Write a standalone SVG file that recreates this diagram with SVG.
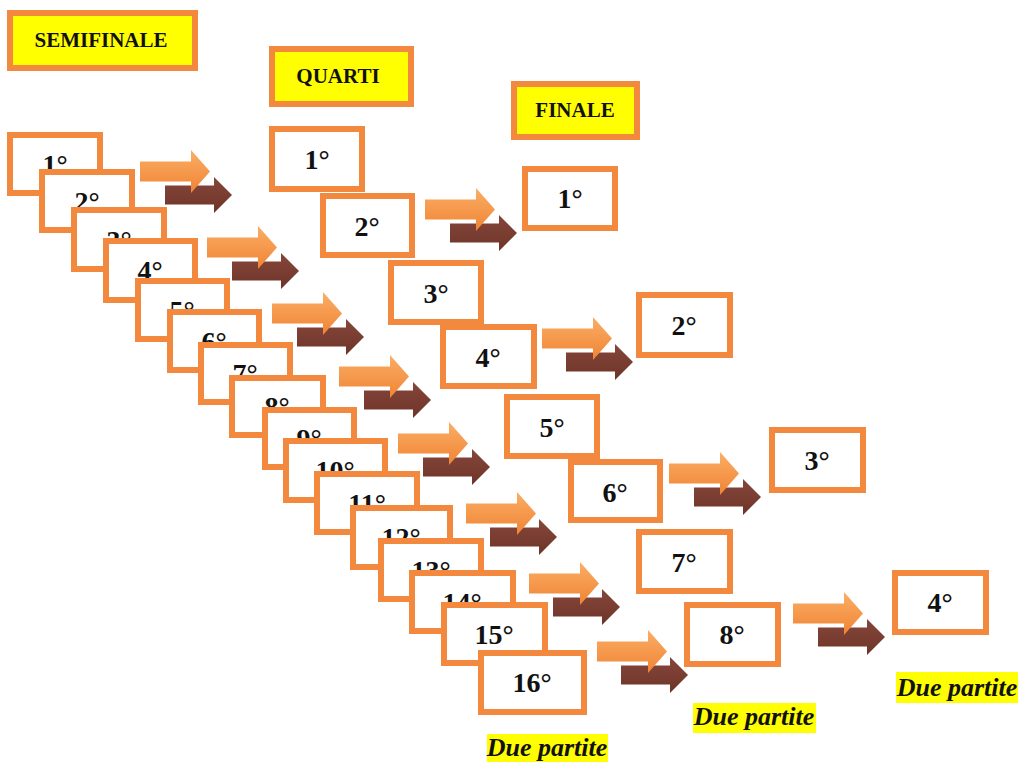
<svg xmlns="http://www.w3.org/2000/svg" width="1020" height="762" viewBox="0 0 1020 762">
<style>
.box{fill:#ffffff;stroke:#F3883F;stroke-width:6}
.hdr{fill:#FFFF00;stroke:#F3883F;stroke-width:6}
.lbl{font-family:"Liberation Serif","Times New Roman",serif;font-weight:bold;font-size:28px;text-anchor:middle;fill:#111}
.htx{font-family:"Liberation Serif","Times New Roman",serif;font-weight:bold;font-size:21px;text-anchor:middle;fill:#111}
.due{font-family:"Liberation Serif","Times New Roman",serif;font-weight:bold;font-style:italic;font-size:26px;text-anchor:middle;fill:#111}
.hl{fill:#FFFF00}
</style>
<defs>
<linearGradient id="og" x1="0" y1="0" x2="0" y2="1">
<stop offset="0" stop-color="#FAAE66"/>
<stop offset="1" stop-color="#F08434"/>
</linearGradient>
<linearGradient id="bg" x1="0" y1="0" x2="0" y2="1">
<stop offset="0" stop-color="#86463A"/>
<stop offset="1" stop-color="#6E3428"/>
</linearGradient>
<path id="oa" d="M0,11.5 H51 V0 L70,21.5 L51,43 V31.5 H0 Z" fill="url(#og)"/>
<path id="ba" d="M0,8.5 H49 V0 L67,18 L49,36 V27.5 H0 Z" fill="url(#bg)"/>
</defs>
<rect width="1020" height="762" fill="#ffffff"/>

<g id="headers">
<g id="h-semifinale"><rect class="hdr" x="10" y="13" width="185" height="55"/><text class="htx" x="101" y="47">SEMIFINALE</text></g>
<g id="h-quarti"><rect class="hdr" x="272" y="49" width="139" height="55"/><text class="htx" x="338" y="83">QUARTI</text></g>
<g id="h-finale"><rect class="hdr" x="514" y="84" width="123" height="53"/><text class="htx" x="575" y="117">FINALE</text></g>
</g>

<g id="semifinale">
<g id="s1"><rect class="box" x="10" y="135" width="90" height="58"/><text class="lbl" x="55" y="174">1°</text></g>
<g id="s2"><rect class="box" x="42" y="172" width="90" height="58"/><text class="lbl" x="87" y="211">2°</text></g>
<g id="s3"><rect class="box" x="74" y="210" width="90" height="59"/><text class="lbl" x="119" y="250">3°</text></g>
<g id="s4"><rect class="box" x="106" y="241" width="89" height="59"/><text class="lbl" x="150" y="280">4°</text></g>
<g id="s5"><rect class="box" x="138" y="281" width="89" height="58"/><text class="lbl" x="182" y="320">5°</text></g>
<g id="s6"><rect class="box" x="170" y="312" width="89" height="58"/><text class="lbl" x="214" y="351">6°</text></g>
<g id="s7"><rect class="box" x="201" y="345" width="89" height="57"/><text class="lbl" x="245" y="383">7°</text></g>
<g id="s8"><rect class="box" x="232" y="378" width="91" height="57"/><text class="lbl" x="277" y="416">8°</text></g>
<g id="s9"><rect class="box" x="265" y="410" width="89" height="57"/><text class="lbl" x="309" y="448">9°</text></g>
<g id="s10"><rect class="box" x="286" y="441" width="99" height="59"/><text class="lbl" x="335" y="480">10°</text></g>
<g id="s11"><rect class="box" x="317" y="474" width="100" height="58"/><text class="lbl" x="367" y="513">11°</text></g>
<g id="s12"><rect class="box" x="353" y="508" width="97" height="59"/><text class="lbl" x="401" y="547">12°</text></g>
<g id="s13"><rect class="box" x="381" y="541" width="100" height="58"/><text class="lbl" x="431" y="580">13°</text></g>
<g id="s14"><rect class="box" x="412" y="573" width="101" height="58"/><text class="lbl" x="462" y="612">14°</text></g>
<g id="s15"><rect class="box" x="444" y="605" width="101" height="58"/><text class="lbl" x="494" y="644">15°</text></g>
<g id="s16"><rect class="box" x="481" y="653" width="103" height="59"/><text class="lbl" x="532" y="692">16°</text></g>
</g>

<g id="quarti">
<g id="q1"><rect class="box" x="272" y="129" width="90" height="60"/><text class="lbl" x="317" y="169">1°</text></g>
<g id="q2"><rect class="box" x="323" y="196" width="89" height="59"/><text class="lbl" x="367" y="236">2°</text></g>
<g id="q3"><rect class="box" x="391" y="263" width="90" height="59"/><text class="lbl" x="436" y="303">3°</text></g>
<g id="q4"><rect class="box" x="443" y="327" width="91" height="59"/><text class="lbl" x="488" y="367">4°</text></g>
<g id="q5"><rect class="box" x="507" y="397" width="90" height="59"/><text class="lbl" x="552" y="437">5°</text></g>
<g id="q6"><rect class="box" x="571" y="462" width="89" height="58"/><text class="lbl" x="615" y="502">6°</text></g>
<g id="q7"><rect class="box" x="639" y="532" width="91" height="59"/><text class="lbl" x="684" y="572">7°</text></g>
<g id="q8"><rect class="box" x="687" y="605" width="91" height="59"/><text class="lbl" x="732" y="644">8°</text></g>
</g>

<g id="finale">
<g id="f1"><rect class="box" x="525" y="169" width="90" height="59"/><text class="lbl" x="570" y="208">1°</text></g>
<g id="f2"><rect class="box" x="639" y="295" width="91" height="60"/><text class="lbl" x="684" y="335">2°</text></g>
<g id="f3"><rect class="box" x="772" y="430" width="91" height="60"/><text class="lbl" x="817" y="470">3°</text></g>
<g id="f4"><rect class="box" x="895" y="573" width="91" height="59"/><text class="lbl" x="940" y="612">4°</text></g>
</g>

<g id="connectors">
<use href="#ba" x="165" y="177"/><use href="#oa" x="140" y="150"/>
<use href="#ba" x="232" y="253"/><use href="#oa" x="207" y="226"/>
<use href="#ba" x="297" y="319"/><use href="#oa" x="272" y="292"/>
<use href="#ba" x="364" y="382"/><use href="#oa" x="339" y="355"/>
<use href="#ba" x="423" y="449"/><use href="#oa" x="398" y="422"/>
<use href="#ba" x="490" y="519"/><use href="#oa" x="466" y="492"/>
<use href="#ba" x="553" y="589"/><use href="#oa" x="529" y="562"/>
<use href="#ba" x="621" y="657"/><use href="#oa" x="597" y="630"/>
<use href="#ba" x="450" y="215"/><use href="#oa" x="425" y="188"/>
<use href="#ba" x="566" y="344"/><use href="#oa" x="542" y="317"/>
<use href="#ba" x="694" y="479"/><use href="#oa" x="669" y="452"/>
<use href="#ba" x="818" y="619"/><use href="#oa" x="793" y="592"/>
</g>

<g id="notes">
<g id="due1"><rect class="hl" x="487" y="734" width="121" height="28"/><text class="due" x="547" y="756">Due partite</text></g>
<g id="due2"><rect class="hl" x="693" y="703" width="123" height="30"/><text class="due" x="754" y="725">Due partite</text></g>
<g id="due3"><rect class="hl" x="896" y="672" width="122" height="31"/><text class="due" x="957" y="696">Due partite</text></g>
</g>
</svg>
